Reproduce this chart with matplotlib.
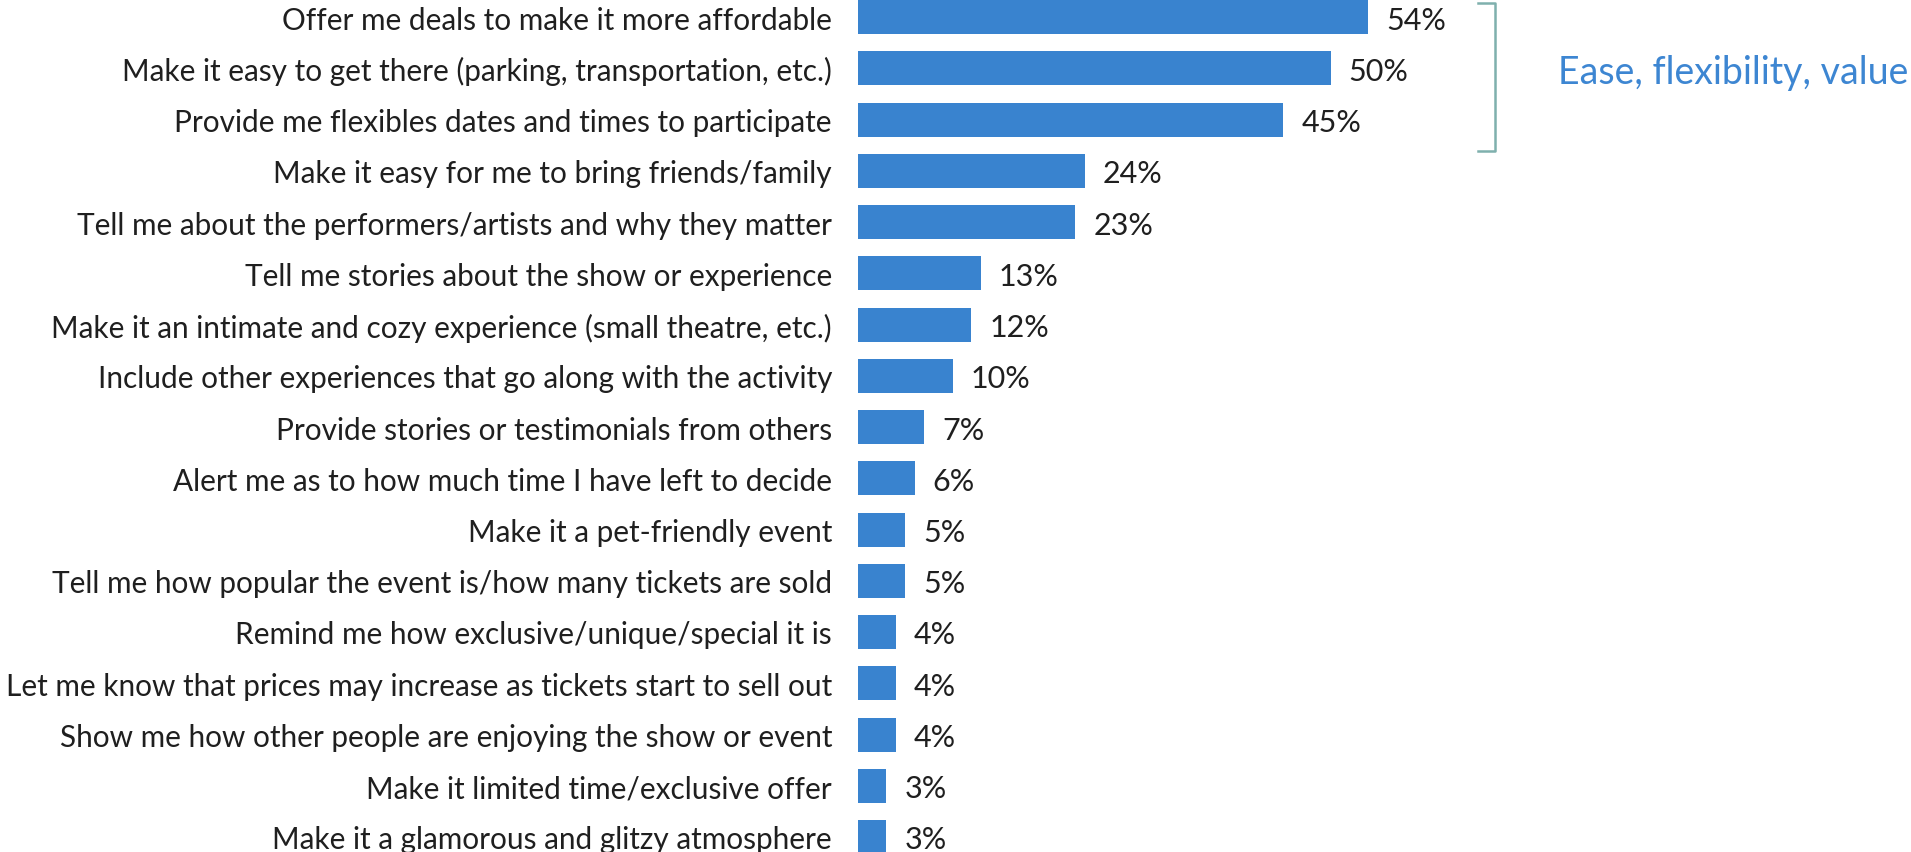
import matplotlib
matplotlib.use("Agg")
import matplotlib.pyplot as plt

categories = [
    "Offer me deals to make it more affordable",
    "Make it easy to get there (parking, transportation, etc.)",
    "Provide me flexibles dates and times to participate",
    "Make it easy for me to bring friends/family",
    "Tell me about the performers/artists and why they matter",
    "Tell me stories about the show or experience",
    "Make it an intimate and cozy experience (small theatre, etc.)",
    "Include other experiences that go along with the activity",
    "Provide stories or testimonials from others",
    "Alert me as to how much time I have left to decide",
    "Make it a pet-friendly event",
    "Tell me how popular the event is/how many tickets are sold",
    "Remind me how exclusive/unique/special it is",
    "Let me know that prices may increase as tickets start to sell out",
    "Show me how other people are enjoying the show or event",
    "Make it limited time/exclusive offer",
    "Make it a glamorous and glitzy atmosphere",
]
values = [54, 50, 45, 24, 23, 13, 12, 10, 7, 6, 5, 5, 4, 4, 4, 3, 3]
group_label = "Ease, flexibility, value"
group_rows = [0, 2]

BAR = "#3983cf"
TEXT = "#1f1f1f"
BRACKET = "#7fb0ad"

plt.rcParams["font.family"] = ["Lato", "DejaVu Sans"]

W, H, DPI = 1911, 853, 100
fig = plt.figure(figsize=(W / DPI, H / DPI), dpi=DPI)

x0 = 858            # left edge of bars, px
px_per_pct = 9.45
row_px = 51.25
first_center = 18

ax = fig.add_axes([x0 / W, 0, (W - x0) / W, 1])
ax.set_xlim(0, (W - x0) / px_per_pct)
ax.set_ylim((H - first_center) / row_px, -first_center / row_px)

ys = list(range(len(values)))
ax.barh(ys, values, height=34 / row_px, color=BAR, zorder=2)

ax.set_yticks(ys)
ax.set_yticklabels(categories, fontsize=21.4, color=TEXT)
ax.tick_params(axis="y", length=0, pad=26 * 72 / DPI)
ax.set_xticks([])
for s in ax.spines.values():
    s.set_visible(False)

gap = 18 / px_per_pct
for y, v in zip(ys, values):
    ax.text(v + gap, y, f"{v}%", va="center_baseline", ha="left",
            fontsize=22, color=TEXT)

# bracket grouping the top three rows
bx = (1495 - x0) / px_per_pct
tick = 17 / px_per_pct
top = group_rows[0] - 0.27
bot = group_rows[1] + 0.62
ax.plot([bx - tick, bx, bx, bx - tick], [top, top, bot, bot],
        color=BRACKET, lw=1.8, solid_joinstyle="round", clip_on=False)

ax.text((1558 - x0) / px_per_pct, (group_rows[0] + group_rows[1]) / 2,
        group_label, va="center_baseline", ha="left", fontsize=27,
        color="#3d86d2", clip_on=False)

fig.savefig("out.png", dpi=DPI)
